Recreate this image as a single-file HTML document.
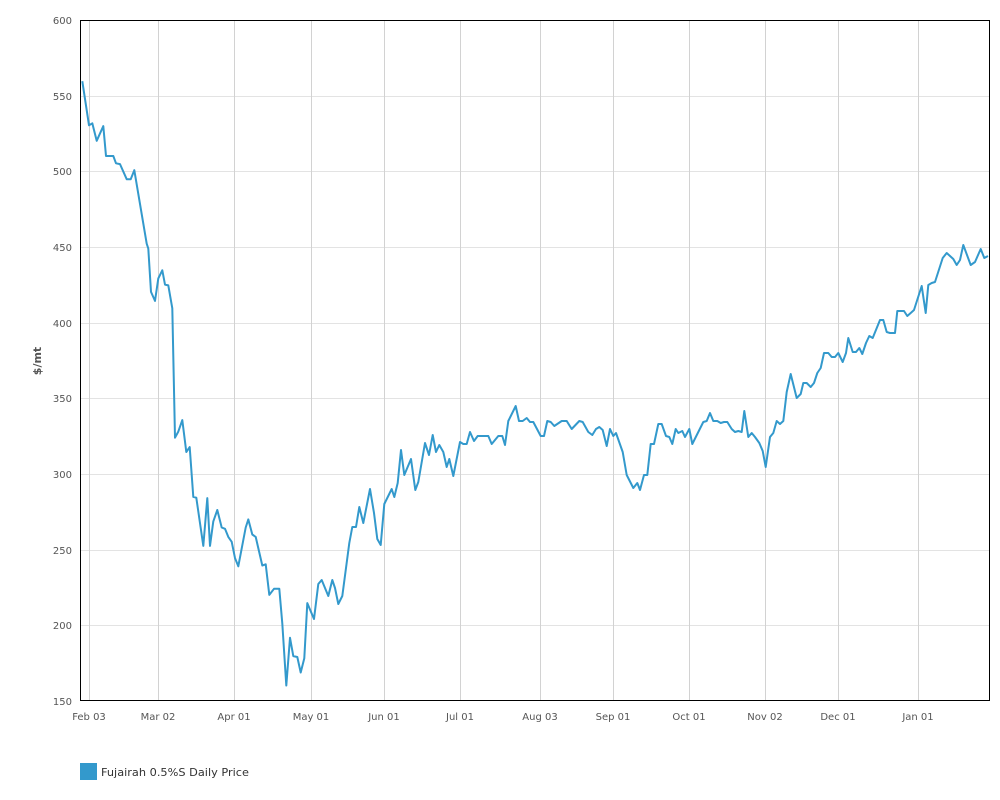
<!DOCTYPE html>
<html><head><meta charset="utf-8"><style>
html,body{margin:0;padding:0;background:#fff;}
svg{display:block;font-family:"DejaVu Sans",sans-serif;}
</style></head><body>
<svg width="1000" height="800" viewBox="0 0 1000 800">
<g stroke="#e3e3e3" stroke-width="1">
<line x1="81" x2="990" y1="20.5" y2="20.5"/><line x1="81" x2="990" y1="96.5" y2="96.5"/><line x1="81" x2="990" y1="171.5" y2="171.5"/><line x1="81" x2="990" y1="247.5" y2="247.5"/><line x1="81" x2="990" y1="323.5" y2="323.5"/><line x1="81" x2="990" y1="398.5" y2="398.5"/><line x1="81" x2="990" y1="474.5" y2="474.5"/><line x1="81" x2="990" y1="550.5" y2="550.5"/><line x1="81" x2="990" y1="625.5" y2="625.5"/>
</g>
<g stroke="#d2d2d2" stroke-width="1">
<line x1="89.5" x2="89.5" y1="20" y2="701"/><line x1="158.5" x2="158.5" y1="20" y2="701"/><line x1="234.5" x2="234.5" y1="20" y2="701"/><line x1="311.5" x2="311.5" y1="20" y2="701"/><line x1="384.5" x2="384.5" y1="20" y2="701"/><line x1="460.5" x2="460.5" y1="20" y2="701"/><line x1="540.5" x2="540.5" y1="20" y2="701"/><line x1="613.5" x2="613.5" y1="20" y2="701"/><line x1="689.5" x2="689.5" y1="20" y2="701"/><line x1="765.5" x2="765.5" y1="20" y2="701"/><line x1="838.5" x2="838.5" y1="20" y2="701"/><line x1="918.5" x2="918.5" y1="20" y2="701"/>
</g>
<rect x="80.5" y="20.5" width="909" height="680" fill="none" stroke="#000" stroke-width="1"/>
<g font-size="10" fill="#555" text-anchor="end">
<text x="72" y="24">600</text><text x="72" y="100">550</text><text x="72" y="175">500</text><text x="72" y="251">450</text><text x="72" y="327">400</text><text x="72" y="402">350</text><text x="72" y="478">300</text><text x="72" y="554">250</text><text x="72" y="629">200</text><text x="72" y="705">150</text>
</g>
<g font-size="10" fill="#555" text-anchor="middle">
<text x="89" y="720">Feb 03</text><text x="158" y="720">Mar 02</text><text x="234" y="720">Apr 01</text><text x="311" y="720">May 01</text><text x="384" y="720">Jun 01</text><text x="460" y="720">Jul 01</text><text x="540" y="720">Aug 03</text><text x="613" y="720">Sep 01</text><text x="689" y="720">Oct 01</text><text x="765" y="720">Nov 02</text><text x="838" y="720">Dec 01</text><text x="918" y="720">Jan 01</text>
</g>
<text x="41" y="361" font-size="11" font-weight="bold" fill="#555" text-anchor="middle" transform="rotate(-90 41 361)">$/mt</text>
<polyline fill="none" stroke="#3399cc" stroke-width="2" stroke-linejoin="round" points="82.3,81.2 89,125.3 92.3,123.3 96.7,140.8 103.3,126.1 106,156 113.3,156 116,163.3 120,164.1 126.7,179.2 130.7,179.2 134.3,170.2 146.7,243.7 148.3,248.6 151,291.9 155,300.9 158.3,278.4 162.3,270.3 165,284.6 168.3,285.4 172.3,308.3 175,437.7 178.3,431.6 182.3,420.1 186.3,452 189.7,447.1 193.3,496.9 196.3,497.7 203.3,545.9 207.3,498.1 210,545.9 213.3,521.4 217.3,510 221.7,527.5 225,528.8 228.3,536.9 231.7,541.8 235,558.1 238.3,566.3 245.7,527.5 248.3,519.4 252.3,534.5 255.7,536.9 262.3,565.5 265.7,564.3 269.3,594.9 274,588.8 279.3,588.8 282.3,623.5 286.3,685.5 290,637.8 293.3,656.1 297.3,657 300.7,672.5 304.3,658.2 307.3,603.1 314,619 318.3,584 321.7,580 328.3,596 332.3,580 335,588 338.3,604 342.3,596 349.3,543 352.3,527 356,527 359.3,507 363.3,523 370,489 374,513 377.3,539 380.7,545 384.3,504 391.7,489 394.3,497 397.7,483 401,450 404.3,475 411,459 415.3,490 418.3,482 425,443 429,455 432.7,435 436,452 439.3,445 443.3,452 446.7,467 449.3,459 453.3,476 460,442 463.3,444 466.7,444 470,432 474,441 477.7,436 488.3,436 491.7,444 498.3,436 502.3,436 505,445 508.3,421 515.7,406 519,421 522.7,421 526.7,418 530,422 533.3,422 540.7,436 544,436 547.3,421 550.7,422 554.3,426 561.7,421 566.7,421 571.7,429 579.3,421 582.7,422 588.3,432 592.3,435 596,429 599.3,427 602.7,430 606.7,446 610,429 613.3,436 616,433 622.7,452 626.7,475 633.3,488 637.3,483 640,490 644,475 647.3,475 650.7,444 654,444 658.3,424 661.7,424 666,436 669.3,437 672.3,444 675.7,429 678.3,433 682.3,431 685,437 689.3,429 692.3,444 703.3,422 706.7,421 710,413 713.3,421 717.3,421 720.7,423 724,422 727.3,422 731.7,429 735,432 738.3,431 741.7,432 744.3,411 748.3,437 751.7,433 755,437 759.3,443 762.7,451 765.7,467 770,437 773.3,433 776.7,421 780,424 783.3,421 786.7,392 790.7,374 796.7,398 800.7,394 803.3,383 806.7,383 810.7,387 814,383 817.3,373 820.7,368 824,353 828.3,353 831.7,357 835,357 838.3,353 842.7,362 846,353 848.3,338 852.7,352 856,352 859.3,348 862.3,354 866,343 869.3,336 872.7,338 880,320 883.3,320 886.7,332 890,333 895,333 897.3,311 904,311 907.3,316 910.7,313 914,310 921.7,286 925.7,313 928.3,285 931.7,283 935,282 942.7,258 946.7,253 953.3,259 956.7,265 960,260 963.3,245 970.7,265 975,262 980.7,249 984.3,258 988,256"/>
<rect x="80" y="763" width="17" height="17" fill="#3399cc"/>
<text x="101" y="776" font-size="11" fill="#333" textLength="148" lengthAdjust="spacingAndGlyphs">Fujairah 0.5%S Daily Price</text>
</svg>
</body></html>
